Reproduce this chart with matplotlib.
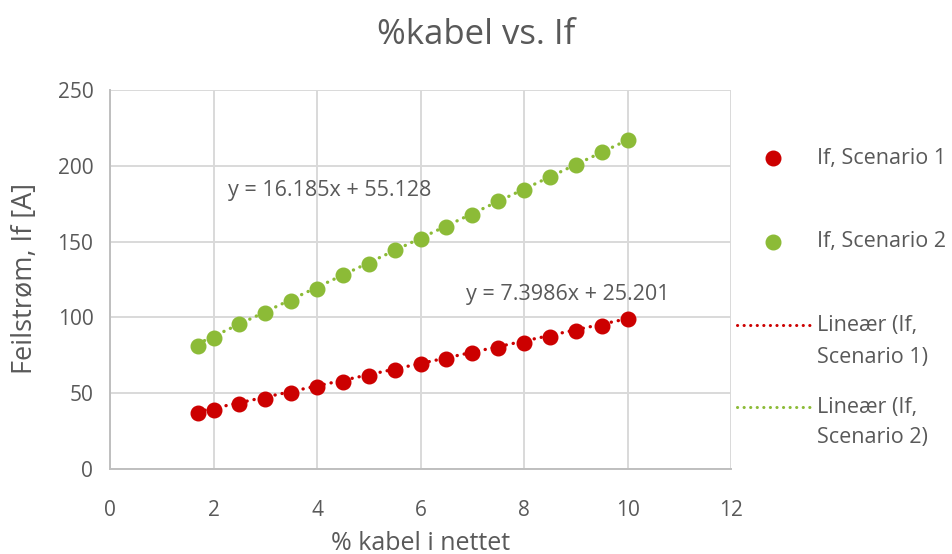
import matplotlib.pyplot as plt
from matplotlib.lines import Line2D

# % kabel i nettet
kabel = [1.7, 2, 2.5, 3, 3.5, 4, 4.5, 5, 5.5, 6, 6.5, 7, 7.5, 8, 8.5, 9, 9.5, 10]
# Feilstrøm If [A]
if_s1 = [36.9, 38.6, 43.0, 46.5, 50.1, 53.8, 57.7, 61.5, 65.0, 69.2, 72.7, 76.2,
         79.9, 83.0, 87.4, 91.1, 94.4, 98.8]
if_s2 = [81.4, 86.7, 95.5, 103.2, 111.1, 118.8, 128.0, 135.2, 144.5, 151.5, 159.8,
         167.7, 176.7, 184.2, 192.3, 200.2, 209.0, 216.9]

# trendlinjer (stigning, konstant)
fit_s1 = (7.3986, 25.201)
fit_s2 = (16.185, 55.128)

red = "#CC0000"
green = "#8CBB37"
grey = "#595959"
dotted = (0, (0.05, 2.1))

plt.rcParams['font.family'] = ['Open Sans', 'DejaVu Sans']

W, H = 952, 554
fig = plt.figure(figsize=(W / 100, H / 100), dpi=100)
ax = fig.add_axes([110 / W, 1 - 469 / H, 621 / W, 379 / H])

x_end = [kabel[0], kabel[-1]]
ax.plot(x_end, [fit_s1[0] * v + fit_s1[1] for v in x_end], color=red, lw=2.4,
        ls=dotted, dash_capstyle='round', zorder=2)
ax.plot(x_end, [fit_s2[0] * v + fit_s2[1] for v in x_end], color=green, lw=2.4,
        ls=dotted, dash_capstyle='round', zorder=2)
ax.plot(kabel, if_s1, 'o', color=red, ms=10.5, zorder=3)
ax.plot(kabel, if_s2, 'o', color=green, ms=10.5, zorder=3)

ax.text(2.28, 184, "y = 16.185x + 55.128", fontsize=15.5, color=grey, va='center')
ax.text(6.87, 114.8, "y = 7.3986x + 25.201", fontsize=15.5, color=grey, va='center')

ax.set_xlim(0, 12)
ax.set_ylim(0, 250)
ax.set_xticks(range(0, 13, 2))
ax.set_yticks(range(0, 251, 50))
ax.grid(True, color="#D9D9D9", lw=1.4)
ax.set_axisbelow(True)
for side in ['top', 'right']:
    ax.spines[side].set_visible(False)
for side in ['left', 'bottom']:
    ax.spines[side].set_color("#BFBFBF")
    ax.spines[side].set_linewidth(1.4)
ax.tick_params(length=0, labelsize=15, labelcolor=grey)
ax.tick_params(axis='x', pad=22)
ax.tick_params(axis='y', pad=12)

fig.text(0.5, 1 - 35 / H, "%kabel vs. If", fontsize=25, color=grey,
         ha='center', va='center')
fig.text(421 / W, 1 - 543 / H, "% kabel i nettet", fontsize=18, color=grey,
         ha='center', va='center')
fig.text(25 / W, 1 - 279 / H, "Feilstrøm, If [A]", fontsize=19.5, color=grey,
         ha='center', va='center', rotation=90)

# forklaring til høyre for plottet
def fy(py):
    return 1 - py / H

fig.add_artist(Line2D([773 / W], [fy(158)], marker='o', color=red, ms=10.5,
                      transform=fig.transFigure))
fig.add_artist(Line2D([773 / W], [fy(242)], marker='o', color=green, ms=10.5,
                      transform=fig.transFigure))
fig.add_artist(Line2D([737 / W, 810 / W], [fy(325)] * 2, color=red, lw=2.2,
                      ls=dotted, dash_capstyle='round', transform=fig.transFigure))
fig.add_artist(Line2D([737 / W, 810 / W], [fy(407)] * 2, color=green, lw=2.2,
                      ls=dotted, dash_capstyle='round', transform=fig.transFigure))
legend_lines = [("If, Scenario 1", 158), ("If, Scenario 2", 242),
                ("Lineær (If,", 325), ("Scenario 1)", 357),
                ("Lineær (If,", 407), ("Scenario 2)", 438)]
for txt, py in legend_lines:
    fig.text(817 / W, fy(py), txt, fontsize=15.5, color=grey, va='center')

fig.savefig("out.png", dpi=100)
